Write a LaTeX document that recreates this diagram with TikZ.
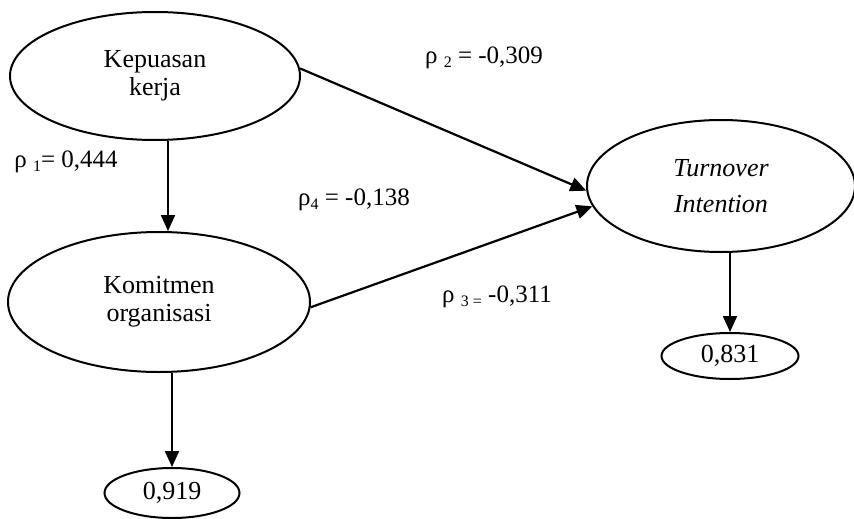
\documentclass[tikz,border=0pt]{standalone}
\usepackage{fontspec}
\setmainfont{Liberation Serif}
\usetikzlibrary{shapes.geometric,arrows.meta}
\newcommand{\lowsub}[1]{\raisebox{-0.3ex}{\fontsize{16}{16}\selectfont #1}}
\begin{document}
\begin{tikzpicture}[x=1pt,y=-1pt,
  latent/.style={ellipse,draw,line width=2pt,inner sep=0pt,align=center,
    font=\fontsize{26}{28}\selectfont},
  resid/.style={ellipse,draw,line width=2pt,inner sep=0pt,
    font=\fontsize{26}{28}\selectfont},
  conn/.style={line width=2.2pt,-{Triangle[length=16pt,width=14pt]}},
  coef/.style={inner sep=0pt,font=\fontsize{25}{28}\selectfont}]
\useasboundingbox (0,0) rectangle (854,519);
\node[latent,minimum width=290pt,minimum height=128pt] (kep) at (155,76) {Kepuasan\\kerja};
\node[latent,minimum width=302pt,minimum height=140pt] (kom) at (159,302) {Komitmen\\organisasi};
\node[latent,minimum width=268pt,minimum height=132pt] (tur) at (721,186)
  {\itshape Turnover\\[8pt]\itshape Intention};
\node[resid,minimum width=137pt,minimum height=46pt] (r1) at (730,356) {0,831};
\node[resid,minimum width=135pt,minimum height=50pt] (r2) at (172,493) {0,919};
\draw[conn] ([xshift=13pt]kep.south) -- ([xshift=9pt]kom.north);
\draw[conn] (kep.3) -- (tur.182);
\draw[conn] (kom.-2) -- (tur.189);
\draw[conn] ([xshift=9pt]tur.south) -- (r1.north);
\draw[conn] ([xshift=13pt]kom.south) -- (r2.north);
\node[coef] (c2) at (484,58) {ρ \lowsub{2} = -0,309};
\node[coef] (c1) at (66,162) {ρ \lowsub{1}= 0,444};
\node[coef] (c4) at (354,200) {ρ\lowsub{4} = -0,138};
\node[coef] (c3) at (497,297) {ρ \lowsub{3 =} -0,311};
\end{tikzpicture}
\end{document}
